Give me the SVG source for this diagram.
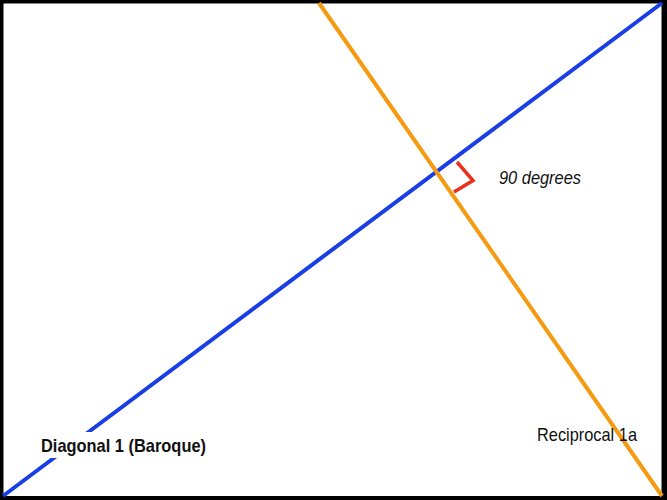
<svg xmlns="http://www.w3.org/2000/svg" width="667" height="500" viewBox="0 0 667 500">
<style>
.lbl{font-family:"Liberation Sans",Arial,sans-serif;fill:#111}
</style>
<rect x="0" y="0" width="667" height="500" fill="#000"/>
<rect x="3.5" y="3.5" width="658" height="492.5" fill="#fff"/>
<g id="connectors">
<line id="diagonal" x1="3" y1="496" x2="662" y2="3" stroke="#1a3ee6" stroke-width="4"/>
<line id="reciprocal" x1="319" y1="3" x2="662" y2="496" stroke="#f59b12" stroke-width="4"/>
<polyline id="right-angle" points="457,162 473,180.5 454,192" fill="none" stroke="#e8301a" stroke-width="3.5"/>
</g>
<g id="label-diagonal">
<rect x="38" y="432" width="172" height="26" fill="#fff"/>
<text class="lbl" x="41" y="452" font-size="18.5" font-weight="bold" textLength="165" lengthAdjust="spacingAndGlyphs">Diagonal 1 (Baroque)</text>
</g>
<g id="label-reciprocal">
<text class="lbl" x="537" y="441" font-size="18.5" textLength="100" lengthAdjust="spacingAndGlyphs">Reciprocal 1a</text>
</g>
<g id="label-angle">
<text class="lbl" x="499" y="184" font-size="18.5" font-style="italic" textLength="82" lengthAdjust="spacingAndGlyphs">90 degrees</text>
</g>
</svg>
